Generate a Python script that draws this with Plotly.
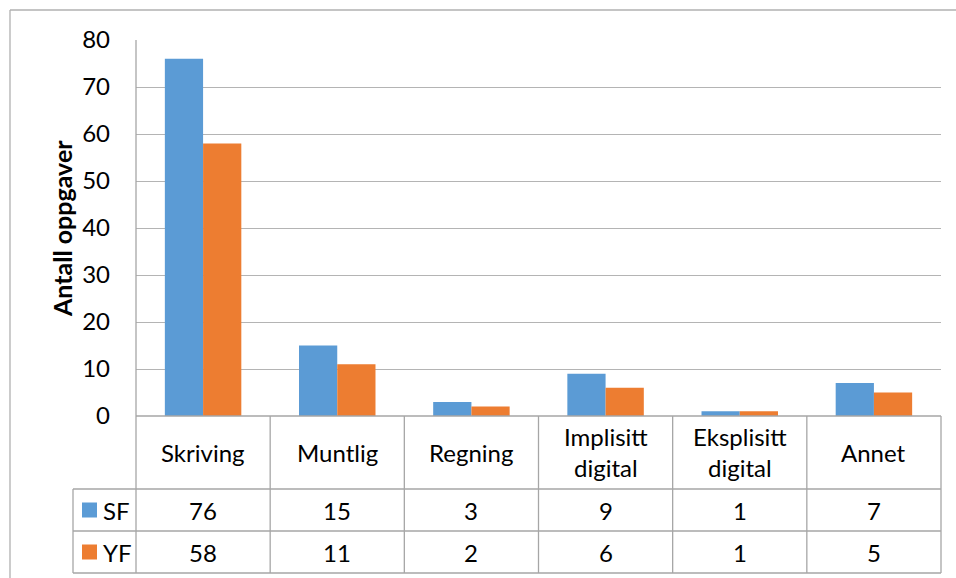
import plotly.graph_objects as go

categories = ["Skriving", "Muntlig", "Regning", "Implisitt<br>digital", "Eksplisitt<br>digital", "Annet"]
series_names = ["SF", "YF"]
sf_values = [76, 15, 3, 9, 1, 7]
yf_values = [58, 11, 2, 6, 1, 5]
y_ticks = [0, 10, 20, 30, 40, 50, 60, 70, 80]
y_title = "Antall oppgaver"

colors = ["#5B9BD5", "#ED7D31"]
FONT = "Lato"
FS = 24
TEXT = "#000000"
GRID = "#b4b4b4"
BORDER = "#a6a6a6"

W, H = 956, 578
L, R, T, B = 136, 15, 40, 162
PW, PH = W - L - R, H - T - B


def px(xp):
    return (xp - L) / PW


def py(yp):
    return (T + PH - yp) / PH


xs = list(range(len(categories)))
fig = go.Figure()
for name, vals, col in zip(series_names, [sf_values, yf_values], colors):
    fig.add_trace(go.Bar(x=xs, y=vals, name=name, marker=dict(color=col, line=dict(width=0))))

shapes = []
annotations = []


def hline(x0, x1, y, xref="paper", color=BORDER):
    shapes.append(dict(type="line", xref=xref, yref="paper", x0=x0, x1=x1, y0=y, y1=y,
                       line=dict(color=color, width=1.3)))


def vline(x, y0, y1, xref="paper", color=BORDER):
    shapes.append(dict(type="line", xref=xref, yref="paper", x0=x, x1=x, y0=y0, y1=y1,
                       line=dict(color=color, width=1.3)))


# data table rows (pixel rows)
row_cat_bottom = py(489)
row_sf_bottom = py(531)
row_yf_bottom = py(573)
legend_left = px(73)

hline(0, 1, 0)
hline(legend_left, 1, row_cat_bottom)
hline(legend_left, 1, row_sf_bottom)
hline(legend_left, 1, row_yf_bottom)
vline(0, 1, row_yf_bottom)
vline(legend_left, row_cat_bottom, row_yf_bottom)
n = len(categories)
for i in range(1, n):
    vline(i - 0.5, 0, row_yf_bottom, xref="x")
vline(1, 0, row_yf_bottom)

# outer chart border
shapes.append(dict(type="line", xref="paper", yref="paper", x0=px(10), x1=px(956), y0=py(10), y1=py(10),
                   line=dict(color="#b0b0b0", width=1.3)))
shapes.append(dict(type="line", xref="paper", yref="paper", x0=px(10), x1=px(10), y0=py(10), y1=py(578),
                   line=dict(color="#b0b0b0", width=1.3)))

# category labels and values
row_centers = [py(452), py(510), py(552)]
for i, cat in enumerate(categories):
    annotations.append(dict(x=i, y=row_centers[0], xref="x", yref="paper", text=cat, showarrow=False,
                            font=dict(family=FONT, size=FS, color=TEXT), xanchor="center", yanchor="middle"))
    for r, vals in enumerate([sf_values, yf_values]):
        annotations.append(dict(x=i, y=row_centers[r + 1], xref="x", yref="paper", text=str(vals[i]),
                                showarrow=False, font=dict(family=FONT, size=FS, color=TEXT),
                                xanchor="center", yanchor="middle"))

# legend keys in the table
for r, (name, col) in enumerate(zip(series_names, colors)):
    yc = row_centers[r + 1]
    shapes.append(dict(type="rect", xref="paper", yref="paper", x0=px(82), x1=px(97),
                       y0=yc - 7.5 / PH, y1=yc + 7.5 / PH, fillcolor=col, line=dict(width=0)))
    annotations.append(dict(x=px(101), y=yc, xref="paper", yref="paper", text=name, showarrow=False,
                            font=dict(family=FONT, size=FS, color=TEXT), xanchor="left", yanchor="middle"))

annotations.append(dict(x=px(62), y=py(229), xref="paper", yref="paper", text="<b>" + y_title + "</b>",
                        textangle=-90, showarrow=False, font=dict(family=FONT, size=25, color=TEXT),
                        xanchor="center", yanchor="middle"))

fig.update_layout(
    width=W, height=H,
    margin=dict(l=L, r=R, t=T, b=B),
    paper_bgcolor="white", plot_bgcolor="white",
    barmode="group", bargap=0.43, bargroupgap=0,
    showlegend=False,
    shapes=shapes, annotations=annotations,
    xaxis=dict(range=[-0.5, n - 0.5], showticklabels=False, showgrid=False, zeroline=False,
               showline=False, fixedrange=True),
    yaxis=dict(range=[0, 80], tickvals=y_ticks, showgrid=True, gridcolor=GRID, gridwidth=1.3,
               zeroline=False, showline=False, ticks="", ticklabelstandoff=25,
               tickfont=dict(family=FONT, size=FS, color=TEXT), fixedrange=True),
)

fig.write_html("out.html")
